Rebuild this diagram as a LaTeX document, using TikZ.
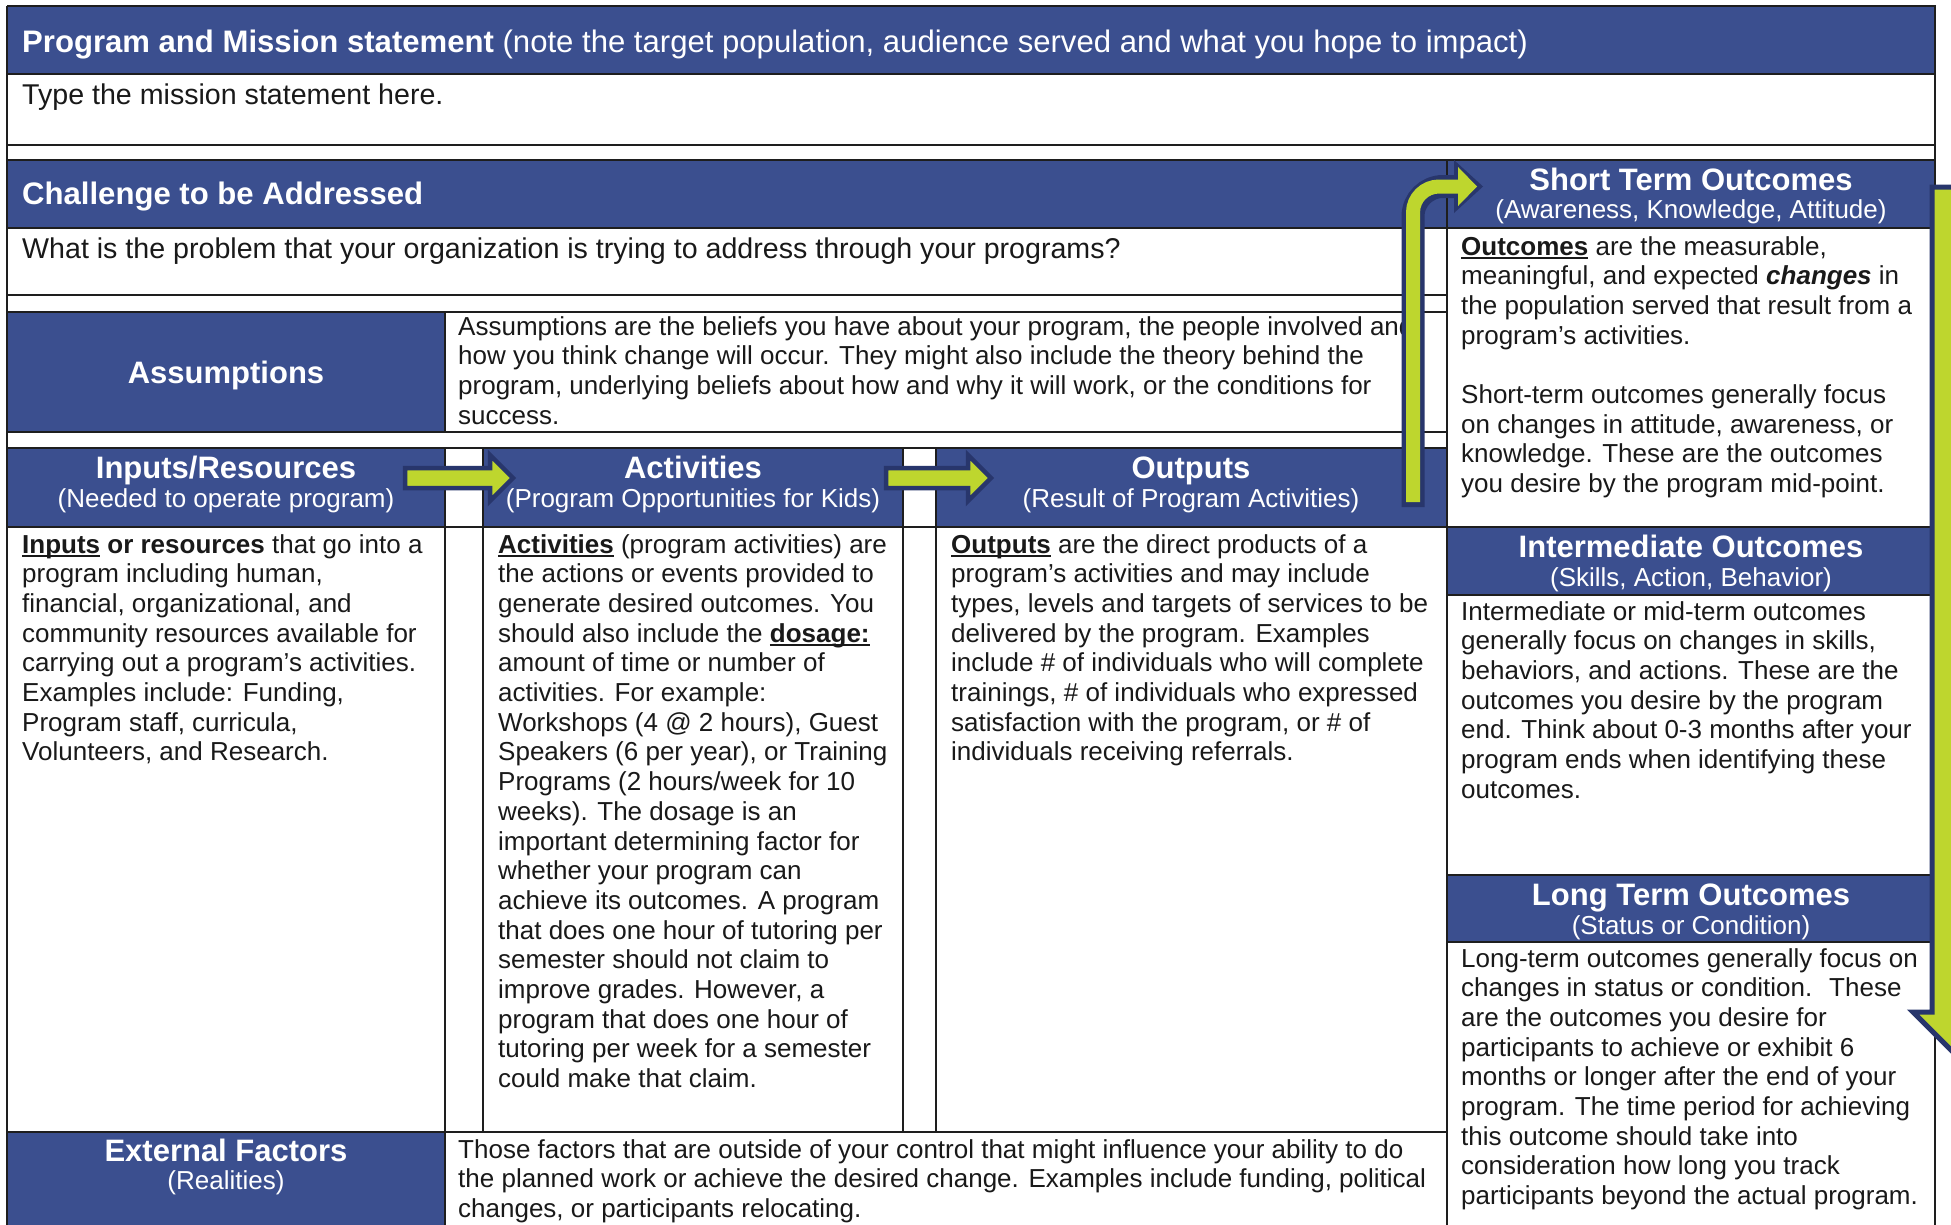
\documentclass[tikz,border=0pt]{standalone}
\usepackage{fontspec}
\setmainfont{Liberation Sans}
\newcommand{\myul}[1]{\setbox0\hbox{#1}\rlap{\rule[-3.6pt]{\wd0}{1.8pt}}\box0\relax}
\definecolor{hdr}{RGB}{59,79,143}
\definecolor{lime}{RGB}{190,214,46}
\definecolor{navy}{RGB}{40,54,108}
\definecolor{ink}{RGB}{25,25,25}
\definecolor{rulec}{RGB}{30,30,30}
\tikzset{
  gridline/.style={draw=rulec, line width=1.6},
  bodytext/.style={anchor=base west, inner sep=0pt, align=left, text=ink, font=\fontsize{26}{29.7}\selectfont},
  bigtext/.style={anchor=base west, inner sep=0pt, align=left, text=ink, font=\fontsize{28.6}{32}\selectfont},
  hdrleft/.style={anchor=base west, inner sep=0pt, text=white, font=\fontsize{31.1}{36}\selectfont},
  ttl/.style={anchor=base, inner sep=0pt, text=white, font=\fontsize{31}{36}\selectfont\bfseries},
  subttl/.style={anchor=base, inner sep=0pt, text=white, font=\fontsize{26}{30}\selectfont},
  blockarrow/.style={fill=lime, draw=navy, line width=4.5, line join=miter},
}
\begin{document}
\begin{tikzpicture}[x=1pt,y=-1pt]
\useasboundingbox (0,0) rectangle (1951,1224);
\clip (0,0) rectangle (1951,1224);
\fill[white] (0,0) rectangle (1951,1224);
% blue header fills
\fill[hdr] (7,6) rectangle (1935,74);
\fill[hdr] (7,160) rectangle (1447,228);
\fill[hdr] (1447,160) rectangle (1935,228);
\fill[hdr] (7,312) rectangle (445,432);
\fill[hdr] (7,448) rectangle (445,527);
\fill[hdr] (483,448) rectangle (903,527);
\fill[hdr] (936,448) rectangle (1447,527);
\fill[hdr] (1447,527) rectangle (1935,595);
\fill[hdr] (1447,875) rectangle (1935,942);
\fill[hdr] (7,1132) rectangle (445,1240);
% grid lines
\draw[gridline] (7,6) -- (1935,6) -- (1935,1240);
\draw[gridline] (7,6) -- (7,1240);
\foreach \y in {74,145,160,228,527} \draw[gridline] (7,\y) -- (1935,\y);
\foreach \y in {295,312,432,448,1132} \draw[gridline] (7,\y) -- (1447,\y);
\foreach \y in {595,875,942} \draw[gridline] (1447,\y) -- (1935,\y);
\draw[gridline] (1447,160) -- (1447,1240);
\draw[gridline] (445,312) -- (445,432);
\draw[gridline] (445,448) -- (445,1240);
\foreach \x in {483,903,936} \draw[gridline] (\x,448) -- (\x,1132);

% header texts (multi-line nodes are anchored at the baseline of their last line)
\node[hdrleft] (prog) at (22,52) {\textbf{Program and Mission statement} (note the target population, audience served and what you hope to impact)};
\node[bigtext] (mission) at (22,104) {Type the mission statement here.};
\node[hdrleft] (chal) at (22,204) {\textbf{Challenge to be Addressed}};
\node[bigtext] (chaltext) at (22,258) {What is the problem that your organization is trying to address through your programs?};

\node[ttl] (assum) at (226,383) {Assumptions};
\node[bodytext] (assumtext) at (458,424.1) {Assumptions are the beliefs you have about your program, the people involved and\\
how you think change will occur. They might also include the theory behind the\\
program, underlying beliefs about how and why it will work, or the conditions for\\
success.};

\node[ttl] (inp) at (226,478) {Inputs/Resources};
\node[subttl] (inpsub) at (226,507) {(Needed to operate program)};
\node[ttl] (act) at (693,478) {Activities};
\node[subttl] (actsub) at (693,507) {(Program Opportunities for Kids)};
\node[ttl] (outp) at (1191,478) {Outputs};
\node[subttl] (outpsub) at (1191,507) {(Result of Program Activities)};

\node[bodytext] (inptext) at (22,760.9) {\textbf{\myul{Inputs} or resources} that go into a\\
program including human,\\
financial, organizational, and\\
community resources available for\\
carrying out a program’s activities.\\
Examples include: Funding,\\
Program staff, curricula,\\
Volunteers, and Research.};

\node[bodytext] (acttext) at (498,1087.6) {\textbf{\myul{Activities}} (program activities) are\\
the actions or events provided to\\
generate desired outcomes. You\\
should also include the \textbf{\myul{dosage:}}\\
amount of time or number of\\
activities. For example:\\
Workshops (4 @ 2 hours), Guest\\
Speakers (6 per year), or Training\\
Programs (2 hours/week for 10\\
weeks). The dosage is an\\
important determining factor for\\
whether your program can\\
achieve its outcomes. A program\\
that does one hour of tutoring per\\
semester should not claim to\\
improve grades. However, a\\
program that does one hour of\\
tutoring per week for a semester\\
could make that claim.};

\node[bodytext] (outptext) at (951,760.9) {\textbf{\myul{Outputs}} are the direct products of a\\
program’s activities and may include\\
types, levels and targets of services to be\\
delivered by the program. Examples\\
include \# of individuals who will complete\\
trainings, \# of individuals who expressed\\
satisfaction with the program, or \# of\\
individuals receiving referrals.};

\node[ttl] (st) at (1691,190) {Short Term Outcomes};
\node[subttl] (stsub) at (1691,218) {(Awareness, Knowledge, Attitude)};
\node[bodytext] (sttext) at (1461,492.6) {\textbf{\myul{Outcomes}} are the measurable,\\
meaningful, and expected \textbf{\textit{changes}} in\\
the population served that result from a\\
program’s activities.\\
\strut\\
Short-term outcomes generally focus\\
on changes in attitude, awareness, or\\
knowledge. These are the outcomes\\
you desire by the program mid-point.};

\node[ttl] (it) at (1691,557) {Intermediate Outcomes};
\node[subttl] (itsub) at (1691,586) {(Skills, Action, Behavior)};
\node[bodytext] (ittext) at (1461,798.2) {Intermediate or mid-term outcomes\\
generally focus on changes in skills,\\
behaviors, and actions. These are the\\
outcomes you desire by the program\\
end. Think about 0-3 months after your\\
program ends when identifying these\\
outcomes.};

\node[ttl] (lt) at (1691,905) {Long Term Outcomes};
\node[subttl] (ltsub) at (1691,934) {(Status or Condition)};
\node[bodytext] (lttext) at (1461,1204.6) {Long-term outcomes generally focus on\\
changes in status or condition.~ These\\
are the outcomes you desire for\\
participants to achieve or exhibit 6\\
months or longer after the end of your\\
program. The time period for achieving\\
this outcome should take into\\
consideration how long you track\\
participants beyond the actual program.};

\node[ttl] (ext) at (226,1161) {External Factors};
\node[subttl] (extsub) at (226,1189) {(Realities)};
\node[bodytext] (exttext) at (458,1217.4) {Those factors that are outside of your control that might influence your ability to do\\
the planned work or achieve the desired change. Examples include funding, political\\
changes, or participants relocating.};

% arrows
\filldraw[blockarrow] (405,468) -- (490,468) -- (490,455) -- (513,478) -- (490,501) -- (490,488) -- (405,488) -- cycle;
\filldraw[blockarrow] (886,468) -- (968,468) -- (968,455) -- (991,478) -- (968,501) -- (968,488) -- (886,488) -- cycle;
% bent arrow outputs -> short term
\draw[navy, line width=23, rounded corners=30] (1413,507) -- (1413,186.5) -- (1460,186.5);
\fill[navy] (1454,160) -- (1483,186.5) -- (1454,213) -- cycle;
\draw[lime, line width=14, rounded corners=26] (1413,502) -- (1413,186.5) -- (1462,186.5);
\fill[lime] (1458,167) -- (1477,186.5) -- (1458,206) -- cycle;
% big down arrow short term -> long term
\filldraw[blockarrow, line width=5] (1932,187) -- (1995,187) -- (1995,1012) -- (2012,1012) -- (1963,1062) -- (1913,1012) -- (1932,1012) -- cycle;
\end{tikzpicture}
\end{document}
